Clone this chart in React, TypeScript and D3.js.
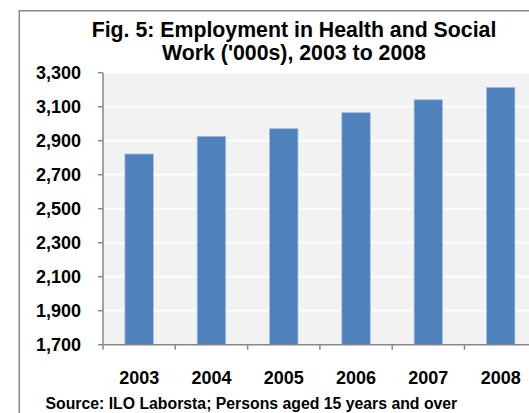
import React from "react";
import * as d3 from "d3";

const years = ["2003", "2004", "2005", "2006", "2007", "2008"];
const employment = [2822, 2926, 2971, 3065, 3141, 3214];
const yTicks = [1700, 1900, 2100, 2300, 2500, 2700, 2900, 3100, 3300];
const titleLines = ["Fig. 5: Employment in Health and Social", "Work ('000s), 2003 to 2008"];
const sourceText = "Source: ILO Laborsta; Persons aged 15 years and over";

const W = 529;
const H = 413;
const FONT = "'Liberation Sans', Arial, Helvetica, sans-serif";

export default function App() {
  const plotLeft = 103;
  const plotRight = 536.8;
  const plotTop = 72.7;
  const plotBottom = 344.7;

  const x = d3
    .scaleBand<string>()
    .domain(years)
    .range([plotLeft, plotRight])
    .paddingInner(0.606)
    .paddingOuter(0.303);
  const y = d3.scaleLinear().domain([1700, 3300]).range([plotBottom, plotTop]);
  const step = x.step();
  const fmt = d3.format(",");
  const axisColor = "#888888";

  return (
    <svg
      width={W}
      height={H}
      style={{ position: "absolute", left: 0, top: 0, display: "block" }}
      fontFamily={FONT}
    >
      <rect x={0} y={0} width={W} height={H} fill="#ffffff" />
      <rect x={19.25} y={10.75} width={700} height={700} fill="#ffffff" stroke={axisColor} strokeWidth={1.5} />

      {titleLines.map((t, i) => (
        <text
          key={i}
          x={294}
          y={37 + i * 23.2}
          textAnchor="middle"
          fontSize={21.3}
          fontWeight="bold"
          fill="#000"
        >
          {t}
        </text>
      ))}

      <rect x={plotLeft} y={plotTop} width={plotRight - plotLeft} height={plotBottom - plotTop} fill="#f2f2f2" />

      {yTicks.slice(1).map((v) => (
        <line key={v} x1={plotLeft} x2={plotRight} y1={y(v)} y2={y(v)} stroke="#ffffff" strokeWidth={1.8} />
      ))}

      {years.map((yr, i) => (
        <rect
          key={yr}
          x={x(yr)}
          y={y(employment[i])}
          width={x.bandwidth()}
          height={plotBottom - y(employment[i])}
          fill="#4f81bd"
          stroke="#a9c1e0"
          strokeWidth={0.8}
        />
      ))}

      <line x1={plotLeft} x2={plotLeft} y1={plotTop} y2={plotBottom} stroke={axisColor} strokeWidth={1.5} />
      <line x1={plotLeft} x2={plotRight} y1={plotBottom} y2={plotBottom} stroke={axisColor} strokeWidth={1.5} />

      {yTicks.map((v) => (
        <g key={v}>
          <line x1={plotLeft - 5} x2={plotLeft} y1={y(v)} y2={y(v)} stroke={axisColor} strokeWidth={1.5} />
          <text
            x={81}
            y={y(v)}
            dy="0.35em"
            textAnchor="end"
            fontSize={18}
            fontWeight="bold"
            fill="#000"
          >
            {fmt(v)}
          </text>
        </g>
      ))}

      {d3.range(years.length + 1).map((i) => {
        const tx = plotLeft + i * step;
        return (
          <line key={i} x1={tx} x2={tx} y1={plotBottom} y2={plotBottom + 5} stroke={axisColor} strokeWidth={1.5} />
        );
      })}

      {years.map((yr) => (
        <text
          key={yr}
          x={(x(yr) as number) + x.bandwidth() / 2}
          y={384}
          textAnchor="middle"
          fontSize={18}
          fontWeight="bold"
          fill="#000"
        >
          {yr}
        </text>
      ))}

      <text x={45.5} y={409} fontSize={15.8} fontWeight="bold" fill="#000">
        {sourceText}
      </text>
    </svg>
  );
}
